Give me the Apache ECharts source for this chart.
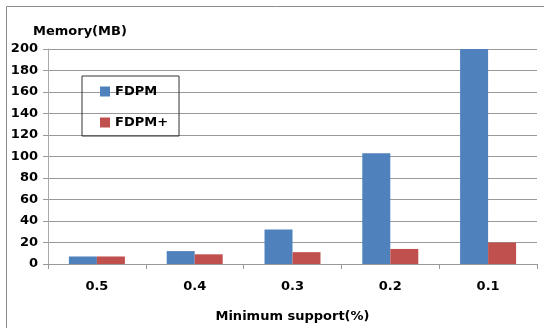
<!DOCTYPE html>
<html><head><meta charset="utf-8">
<script src="https://cdn.jsdelivr.net/npm/echarts@6/dist/echarts.min.js"></script>
<style>html,body{margin:0;padding:0;background:#fff}#c{width:544px;height:328px}</style>
</head><body><div id="c"></div>
<script>
const categories = ['0.5', '0.4', '0.3', '0.2', '0.1'];
const fdpm = [7, 12, 32, 103, 200];
const fdpmPlus = [7, 9, 11, 14, 20];
const seriesNames = ['FDPM', 'FDPM+'];
const yTitle = 'Memory(MB)';
const xTitle = 'Minimum support(%)';

const chart = echarts.init(document.getElementById('c'));
const font = 'DejaVu Sans';
chart.setOption({
  animation: false,
  backgroundColor: '#fff',
  title: {
    text: yTitle, left: 33, top: 25, padding: 0,
    textStyle: { fontFamily: font, fontSize: 13, fontWeight: 'bold', color: '#000' }
  },
  graphic: [{
    type: 'polyline', silent: true,
    shape: { points: [[6.5, 340], [6.5, 6.5], [560, 6.5]] },
    style: { stroke: '#8c8c8c', lineWidth: 1, fill: null }
  }],
  legend: {
    orient: 'vertical', left: 82, top: 76,
    padding: [9, 11, 7, 18], itemGap: 18,
    itemWidth: 10, itemHeight: 10, icon: 'rect',
    borderColor: '#333', borderWidth: 1,
    textStyle: { fontFamily: font, fontSize: 13, fontWeight: 'bold', color: '#000' },
    data: seriesNames
  },
  grid: { left: 48, right: 7, top: 49, bottom: 60, containLabel: false },
  xAxis: {
    type: 'category', data: categories,
    name: xTitle, nameLocation: 'middle', nameGap: 46,
    nameTextStyle: { fontFamily: font, fontSize: 13, fontWeight: 'bold', color: '#000' },
    axisLine: { lineStyle: { color: '#999' } },
    axisTick: { show: true, length: 5, lineStyle: { color: '#999' } },
    axisLabel: { margin: 16, fontFamily: font, fontSize: 13, fontWeight: 'bold', color: '#000' }
  },
  yAxis: {
    type: 'value', min: 0, max: 200, interval: 20,
    axisLine: { show: true, lineStyle: { color: '#aaa' } },
    axisTick: { show: true, length: 5, lineStyle: { color: '#999' } },
    axisLabel: { margin: 10, fontFamily: font, fontSize: 13, fontWeight: 'bold', color: '#000' },
    splitLine: { lineStyle: { color: '#999' } }
  },
  series: [
    { name: seriesNames[0], type: 'bar', data: fdpm, barWidth: 28, barGap: '0%',
      itemStyle: { color: '#4F81BD' } },
    { name: seriesNames[1], type: 'bar', data: fdpmPlus, barWidth: 28, barGap: '0%',
      itemStyle: { color: '#C0504D' } }
  ]
});
</script></body></html>
